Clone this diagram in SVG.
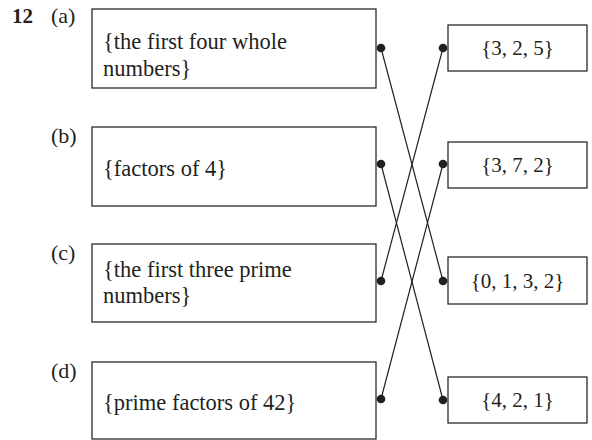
<svg xmlns="http://www.w3.org/2000/svg" width="592" height="440" viewBox="0 0 592 440">
<style>
.box{fill:#fff;stroke:#2a2a2a;stroke-width:1.3}
.t{font-family:"Liberation Serif","Times New Roman",serif;font-size:22.5px;fill:#231f20}
.r{font-family:"Liberation Serif","Times New Roman",serif;font-size:21px;fill:#231f20;text-anchor:middle}
.lbl{font-family:"Liberation Serif","Times New Roman",serif;font-size:22px;fill:#231f20}
.b{font-weight:bold;font-size:21px}
.ln{stroke:#231f20;stroke-width:1.2;fill:none}
.dot{fill:#231f20}
</style>
<rect width="592" height="440" fill="#fff"/>
<text class="lbl b" x="12" y="23">12</text>
<g id="a">
<text class="lbl" x="51" y="23">(a)</text>
<rect class="box" x="92" y="9" width="284" height="79"/>
<text class="t" x="103" y="49">{the first four whole</text>
<text class="t" x="103" y="76">numbers}</text>
</g>
<g id="b">
<text class="lbl" x="51" y="143">(b)</text>
<rect class="box" x="92" y="127" width="284" height="79"/>
<text class="t" x="103" y="176">{factors of 4}</text>
</g>
<g id="c">
<text class="lbl" x="51" y="260">(c)</text>
<rect class="box" x="92" y="244" width="284" height="78"/>
<text class="t" x="103" y="277">{the first three prime</text>
<text class="t" x="103" y="303">numbers}</text>
</g>
<g id="d">
<text class="lbl" x="51" y="378">(d)</text>
<rect class="box" x="92" y="362" width="284" height="77"/>
<text class="t" x="103" y="410">{prime factors of 42}</text>
</g>
<g id="r1">
<rect class="box" x="448" y="25" width="139" height="46"/>
<text class="r" x="517.5" y="55">{3, 2, 5}</text>
</g>
<g id="r2">
<rect class="box" x="448" y="142" width="139" height="46"/>
<text class="r" x="517.5" y="172">{3, 7, 2}</text>
</g>
<g id="r3">
<rect class="box" x="448" y="257" width="139" height="47"/>
<text class="r" x="517.5" y="288">{0, 1, 3, 2}</text>
</g>
<g id="r4">
<rect class="box" x="448" y="377" width="139" height="46"/>
<text class="r" x="517.5" y="407">{4, 2, 1}</text>
</g>
<g id="connectors">
<line class="ln" x1="381" y1="48" x2="443" y2="281"/>
<line class="ln" x1="381" y1="164" x2="443" y2="400"/>
<line class="ln" x1="381" y1="281" x2="443" y2="48"/>
<line class="ln" x1="381" y1="399" x2="443" y2="164"/>
<circle class="dot" cx="381" cy="48" r="4.3"/>
<circle class="dot" cx="381" cy="164" r="4.3"/>
<circle class="dot" cx="381" cy="281" r="4.3"/>
<circle class="dot" cx="381" cy="399" r="4.3"/>
<circle class="dot" cx="443" cy="48" r="4.3"/>
<circle class="dot" cx="443" cy="164" r="4.3"/>
<circle class="dot" cx="443" cy="281" r="4.3"/>
<circle class="dot" cx="443" cy="400" r="4.3"/>
</g>
</svg>
